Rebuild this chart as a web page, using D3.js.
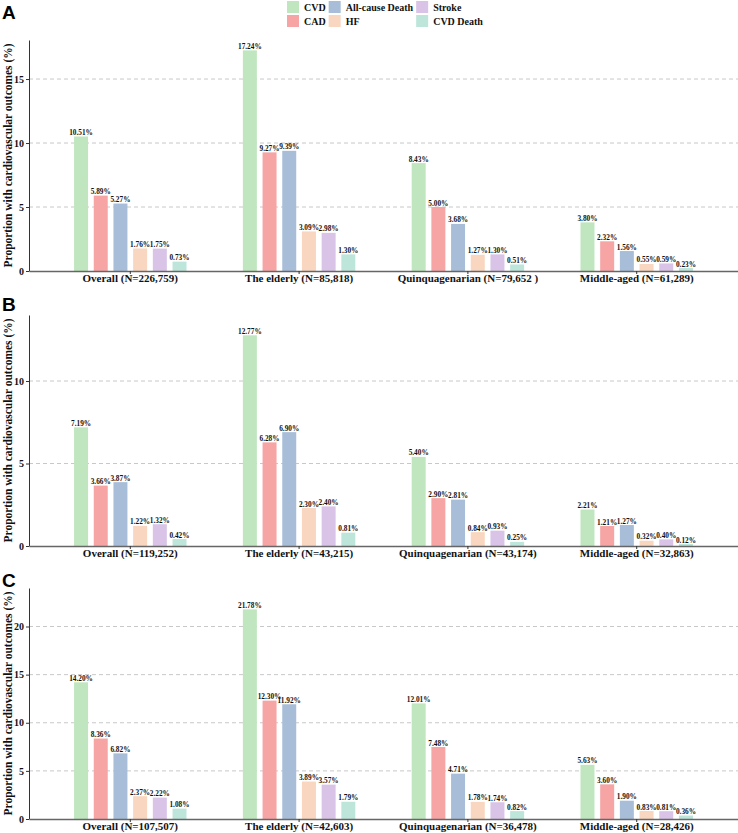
<!DOCTYPE html>
<html><head><meta charset="utf-8">
<script src="https://cdn.jsdelivr.net/npm/d3@7"></script>
<style>body{margin:0;background:#fff} svg{display:block}</style>
</head><body><div id="chart"></div>
<script>
// ---------- data ----------
const seriesNames = ["CVD", "CAD", "All-cause Death", "HF", "Stroke", "CVD Death"];
const seriesColors = ["#bfe6bf", "#f7a4a4", "#a8bed8", "#f8d6bf", "#d9c4e7", "#bde5da"];
const panelLetters = ["A", "B", "C"];

const groupsA = ["Overall (N=226,759)", "The elderly (N=85,818)", "Quinquagenarian (N=79,652 )", "Middle-aged (N=61,289)"];
const cvdA      = [10.51, 17.24, 8.43, 3.80];
const cadA      = [5.89, 9.27, 5.00, 2.32];
const deathA    = [5.27, 9.39, 3.68, 1.56];
const hfA       = [1.76, 3.09, 1.27, 0.55];
const strokeA   = [1.75, 2.98, 1.30, 0.59];
const cvdDeathA = [0.73, 1.30, 0.51, 0.23];
const yTicksA = [0, 5, 10, 15];
const yMaxA = 18.05;

const groupsB = ["Overall (N=119,252)", "The elderly (N=43,215)", "Quinquagenarian (N=43,174)", "Middle-aged (N=32,863)"];
const cvdB      = [7.19, 12.77, 5.40, 2.21];
const cadB      = [3.66, 6.28, 2.90, 1.21];
const deathB    = [3.87, 6.90, 2.81, 1.27];
const hfB       = [1.22, 2.30, 0.84, 0.32];
const strokeB   = [1.32, 2.40, 0.93, 0.40];
const cvdDeathB = [0.42, 0.81, 0.25, 0.12];
const yTicksB = [0, 5, 10];
const yMaxB = 14.0;

const groupsC = ["Overall (N=107,507)", "The elderly (N=42,603)", "Quinquagenarian (N=36,478)", "Middle-aged (N=28,426)"];
const cvdC      = [14.20, 21.78, 12.01, 5.63];
const cadC      = [8.36, 12.30, 7.48, 3.60];
const deathC    = [6.82, 11.92, 4.71, 1.90];
const hfC       = [2.37, 3.89, 1.78, 0.83];
const strokeC   = [2.22, 3.57, 1.74, 0.81];
const cvdDeathC = [1.08, 1.79, 0.82, 0.36];
const yTicksC = [0, 5, 10, 15, 20];
const yMaxC = 24.0;

const yTitle = "Proportion with cardiovascular outcomes (%)";

// ---------- build ----------
const panels = [
  {groups: groupsA, series: [cvdA, cadA, deathA, hfA, strokeA, cvdDeathA], ticks: yTicksA, ymax: yMaxA},
  {groups: groupsB, series: [cvdB, cadB, deathB, hfB, strokeB, cvdDeathB], ticks: yTicksB, ymax: yMaxB},
  {groups: groupsC, series: [cvdC, cadC, deathC, hfC, strokeC, cvdDeathC], ticks: yTicksC, ymax: yMaxC}
];

const W = 738, H = 833;
const serif = "'Liberation Serif','Times New Roman',Times,serif";
const sans = "'Liberation Sans',Arial,Helvetica,sans-serif";
const svg = d3.select("#chart").append("svg").attr("width", W).attr("height", H);

const color = d3.scaleOrdinal().domain(seriesNames).range(seriesColors);

const left = 29, right = 738, plotH = 231;
const panelTops = [40, 315, 588];
const letterY = [19, 311, 587];

panels.forEach((p, i) => {
  const top = panelTops[i];
  const g = svg.append("g");
  const y = d3.scaleLinear().domain([0, p.ymax]).range([top + plotH, top]);
  const x0 = d3.scaleBand().domain(p.groups).range([left, right]).paddingInner(0).paddingOuter(0.1);
  const bw = x0.bandwidth();
  const x1 = d3.scaleBand().domain(seriesNames).range([0.15 * bw, 0.85 * bw]).paddingInner(0.29).paddingOuter(0.145);

  // grid
  g.append("g").selectAll("line").data(p.ticks.filter(t => t > 0)).join("line")
    .attr("x1", left).attr("x2", right)
    .attr("y1", d => y(d)).attr("y2", d => y(d))
    .attr("stroke", "#c8c8c8").attr("stroke-width", 1).attr("stroke-dasharray", "4,3");

  // bars
  const rows = p.groups.map((grp, gi) => seriesNames.map((s, si) => ({grp, s, v: p.series[si][gi]})));
  const gg = g.append("g").selectAll("g").data(rows).join("g")
    .attr("transform", d => `translate(${x0(d[0].grp)},0)`);
  gg.selectAll("rect").data(d => d).join("rect")
    .attr("x", d => x1(d.s)).attr("width", x1.bandwidth())
    .attr("y", d => y(d.v)).attr("height", d => y(0) - y(d.v))
    .attr("fill", d => color(d.s));
  gg.selectAll("text").data(d => d).join("text")
    .attr("x", d => x1(d.s) + x1.bandwidth() / 2).attr("y", d => y(d.v) - 1.5)
    .attr("text-anchor", "middle")
    .style("font-family", serif).style("font-weight", "bold").style("font-size", "7.3px")
    .attr("fill", "#111")
    .text(d => d.v.toFixed(2) + "%");

  // y axis
  const ya = g.append("g").attr("transform", `translate(${left},0)`)
    .call(d3.axisLeft(y).tickValues(p.ticks).tickSize(3).tickSizeOuter(0).tickPadding(2));
  ya.select(".domain").attr("stroke", "#333").attr("stroke-width", 1);
  ya.selectAll(".tick line").attr("stroke", "#333");
  ya.selectAll(".tick text").style("font-family", serif).style("font-weight", "bold")
    .style("font-size", "10px").attr("fill", "#111");

  // x axis
  const xa = g.append("g").attr("transform", `translate(0,${y(0)})`)
    .call(d3.axisBottom(x0).tickSize(3).tickSizeOuter(0).tickPadding(0));
  xa.select(".domain").attr("stroke", "#666").attr("stroke-width", 1.5);
  xa.selectAll(".tick line").attr("stroke", "#333");
  xa.selectAll(".tick text").style("font-family", serif).style("font-weight", "bold")
    .style("font-size", "11px").attr("fill", "#111");

  // y title (sized so it spans ~224px like the reference)
  const yt = svg.append("text")
    .attr("transform", `translate(8,${top + plotH / 2}) rotate(-90)`)
    .attr("text-anchor", "middle").attr("dominant-baseline", "central")
    .style("font-family", serif).style("font-weight", "bold").style("font-size", "11.5px")
    .attr("fill", "#111").text(yTitle);
  const len = yt.node().getComputedTextLength();
  if (len > 0) yt.style("font-size", Math.min(12.5, 11.5 * 224 / len) + "px");

  // panel letter
  svg.append("text").attr("x", 2).attr("y", letterY[i])
    .style("font-family", sans).style("font-weight", "bold").style("font-size", "19px")
    .attr("fill", "#000").text(panelLetters[i]);
});

// legend (2 rows x 3 columns, filled by column)
const leg = svg.append("g");
const legFont = "10px";
let colX = 287;
for (let c = 0; c < 3; c++) {
  let maxW = 0;
  for (let r = 0; r < 2; r++) {
    const name = seriesNames[c * 2 + r];
    const cy = 7 + r * 14;
    leg.append("rect").attr("x", colX).attr("y", cy - 6).attr("width", 12).attr("height", 12)
      .attr("fill", color(name));
    const t = leg.append("text").attr("x", colX + 17).attr("y", cy).attr("dominant-baseline", "central")
      .style("font-family", serif).style("font-weight", "bold").style("font-size", legFont)
      .attr("fill", "#111").text(name);
    maxW = Math.max(maxW, t.node().getComputedTextLength());
  }
  colX = colX + 17 + maxW + 3;
}
</script>
</body></html>
